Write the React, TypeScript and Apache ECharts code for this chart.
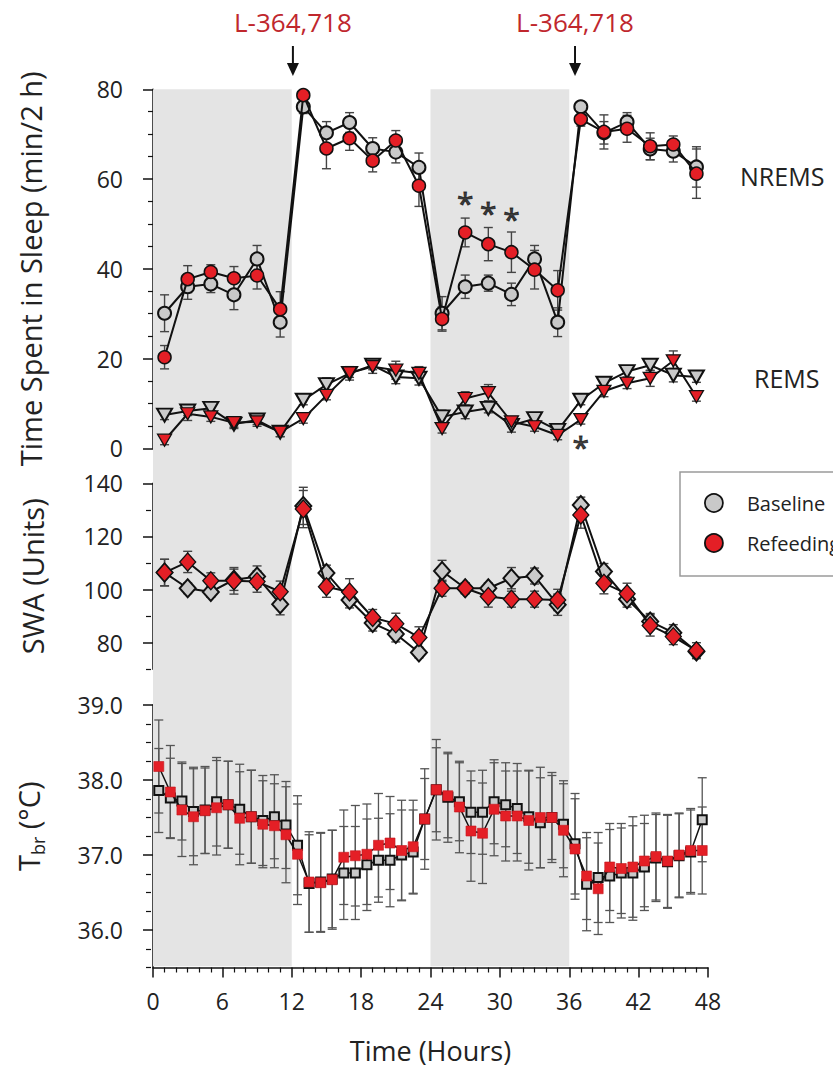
import React, { useEffect, useRef } from 'react';
import * as echarts from 'echarts';

// ---------- data ----------
const HOURS_2H = [1, 3, 5, 7, 9, 11, 13, 15, 17, 19, 21, 23, 25, 27, 29, 31, 33, 35, 37, 39, 41, 43, 45, 47];
const HOURS_1H = [0.5, 1.5, 2.5, 3.5, 4.5, 5.5, 6.5, 7.5, 8.5, 9.5, 10.5, 11.5, 12.5, 13.5, 14.5, 15.5, 16.5, 17.5, 18.5, 19.5, 20.5, 21.5, 22.5, 23.5, 24.5, 25.5, 26.5, 27.5, 28.5, 29.5, 30.5, 31.5, 32.5, 33.5, 34.5, 35.5, 36.5, 37.5, 38.5, 39.5, 40.5, 41.5, 42.5, 43.5, 44.5, 45.5, 46.5, 47.5];

const NREMS_BASE = [30.1, 36.0, 36.6, 34.2, 42.2, 28.1, 76.1, 70.3, 72.6, 66.8, 66.0, 62.6, 30.1, 36.0, 36.8, 34.3, 42.2, 28.1, 76.1, 70.3, 72.7, 66.7, 66.2, 62.7];
const NREMS_BASE_SEM = [4.1, 2.8, 1.9, 3.3, 3.0, 3.3, 1.5, 2.5, 2.2, 2.4, 2.4, 3.2, 3.7, 2.6, 1.8, 2.5, 3.0, 3.2, 1.0, 2.5, 2.1, 2.4, 2.4, 4.5];
const NREMS_REF = [20.3, 37.7, 39.3, 37.9, 38.5, 31.0, 78.7, 66.8, 69.1, 64.1, 68.6, 58.5, 28.8, 48.1, 45.5, 43.7, 39.8, 35.2, 73.3, 70.5, 71.2, 67.3, 67.7, 61.2];
const NREMS_REF_SEM = [2.6, 3.0, 1.6, 2.6, 3.0, 3.9, 1.0, 4.5, 2.7, 2.5, 2.2, 4.6, 2.7, 3.2, 3.7, 4.5, 4.3, 4.4, 1.5, 3.8, 3.0, 3.0, 1.9, 5.5];

const REMS_BASE = [7.4, 8.3, 8.9, 5.4, 6.3, 3.6, 10.7, 14.2, 16.7, 18.5, 15.9, 15.6, 7.0, 8.1, 8.9, 5.1, 6.6, 4.0, 10.7, 14.5, 17.1, 18.5, 16.3, 15.9];
const REMS_BASE_SEM = [1.0, 1.0, 1.0, 1.0, 1.0, 1.0, 1.0, 1.5, 1.5, 1.0, 1.5, 1.5, 1.5, 1.5, 1.0, 1.5, 1.0, 1.0, 1.0, 1.0, 1.2, 1.2, 1.5, 1.2];
const REMS_REF = [1.8, 7.7, 7.0, 5.7, 5.9, 3.6, 6.6, 11.8, 16.8, 18.2, 17.4, 16.7, 4.4, 11.1, 12.4, 5.9, 4.8, 2.9, 6.4, 12.7, 14.5, 15.6, 19.5, 11.5];
const REMS_REF_SEM = [1.0, 1.5, 1.0, 1.0, 1.0, 1.0, 1.0, 1.0, 1.0, 1.5, 2.0, 1.5, 1.0, 1.5, 1.8, 1.0, 1.0, 1.0, 1.0, 1.2, 1.2, 1.8, 2.2, 1.0];

const SWA_BASE = [106.4, 100.5, 99.1, 103.7, 104.9, 94.5, 131.5, 106.2, 96.1, 87.4, 83.3, 76.3, 107.0, 100.5, 100.5, 104.3, 105.1, 94.3, 131.8, 106.8, 96.4, 88.0, 83.8, 76.7];
const SWA_BASE_SEM = [5, 2, 2, 4, 4, 4, 7, 3, 3, 3, 3, 2, 4, 2, 2, 4, 3, 4, 3, 3, 3, 3, 3, 2];
const SWA_REF = [106.4, 110.4, 103.3, 103.3, 103.0, 99.2, 130.3, 101.1, 99.1, 89.5, 87.1, 82.0, 100.5, 100.5, 97.4, 96.4, 96.4, 96.1, 128.1, 102.4, 98.4, 86.5, 82.3, 77.0];
const SWA_REF_SEM = [5, 4, 3, 5, 4, 4, 7, 4, 5, 3, 4, 4, 3, 2, 4, 3, 3, 4, 5, 4, 4, 4, 3, 3];

const TBR_BASE = [37.86, 37.76, 37.72, 37.58, 37.60, 37.71, 37.67, 37.61, 37.51, 37.46, 37.51, 37.40, 37.13, 36.62, 36.64, 36.68, 36.76, 36.76, 36.87, 36.93, 36.93, 37.00, 37.04, 37.48, 37.87, 37.77, 37.71, 37.57, 37.57, 37.71, 37.67, 37.62, 37.51, 37.43, 37.50, 37.41, 37.15, 36.61, 36.70, 36.72, 36.76, 36.76, 36.84, 36.96, 36.91, 36.99, 37.04, 37.47];
const TBR_BASE_SEM = [0.56, 0.53, 0.52, 0.59, 0.58, 0.59, 0.58, 0.60, 0.62, 0.60, 0.56, 0.58, 0.66, 0.65, 0.66, 0.65, 0.62, 0.62, 0.61, 0.56, 0.62, 0.60, 0.56, 0.67, 0.67, 0.60, 0.52, 0.55, 0.56, 0.56, 0.56, 0.60, 0.62, 0.60, 0.60, 0.58, 0.67, 0.62, 0.60, 0.62, 0.60, 0.63, 0.58, 0.58, 0.62, 0.56, 0.56, 0.56];
const TBR_REF = [38.18, 37.84, 37.60, 37.51, 37.59, 37.63, 37.67, 37.49, 37.51, 37.41, 37.39, 37.27, 37.01, 36.64, 36.63, 36.67, 36.97, 36.99, 37.01, 37.13, 37.16, 37.06, 37.11, 37.48, 37.87, 37.79, 37.64, 37.32, 37.29, 37.61, 37.52, 37.52, 37.46, 37.50, 37.50, 37.33, 37.08, 36.72, 36.55, 36.84, 36.82, 36.84, 36.92, 36.98, 36.92, 37.00, 37.06, 37.06];
const TBR_REF_SEM = [0.62, 0.62, 0.62, 0.64, 0.57, 0.63, 0.58, 0.62, 0.62, 0.58, 0.56, 0.64, 0.67, 0.67, 0.66, 0.66, 0.63, 0.67, 0.67, 0.69, 0.62, 0.67, 0.62, 0.54, 0.56, 0.56, 0.61, 0.67, 0.67, 0.62, 0.60, 0.60, 0.66, 0.67, 0.56, 0.62, 0.67, 0.58, 0.61, 0.58, 0.60, 0.67, 0.61, 0.58, 0.62, 0.56, 0.56, 0.58];

const SIG_X = [27, 29, 31, 37];
const SIG_Y = [56.4, 54.2, 52.7, 1.9];

const DARK_PERIODS = [[0, 12], [24, 36]];
const ARROW_HOURS = [12.1, 36.5];
const DRUG_LABEL = 'L-364,718';

const X_TICKS = { min: 0, max: 48, interval: 6 };
const SLEEP_AXIS = { min: 0, max: 80, interval: 20 };
const SWA_AXIS = { min: 70, max: 140 };
const SWA_MAJOR = [80, 100, 120, 140];
const SWA_MINOR = [70, 90, 110, 130];
const TBR_AXIS = { min: 35.5, max: 39 };
const TBR_MAJOR = [36, 37, 38, 39];
const TBR_MINOR = [35.5, 35.75, 36.25, 36.5, 36.75, 37.25, 37.5, 37.75, 38.25, 38.5, 38.75];

// ---------- styles ----------
const FONT = 'Open Sans';
const RED = '#e41f26';
const GRAY = '#c9c9c9';
const INK = '#111';
const TXT = '#222';

const pair = (xs: number[], ys: number[]) => xs.map((x, i) => [x, ys[i]]);

function errSeries(xs: number[], ys: number[], sems: number[], axisIdx: number, yIdx: number, color: string, capW: number, lw: number, z: number) {
  return {
    type: 'custom',
    xAxisIndex: axisIdx,
    yAxisIndex: yIdx,
    z,
    silent: true,
    clip: false,
    data: xs.map((x, i) => [x, ys[i] - sems[i], ys[i] + sems[i]]),
    encode: { x: 0, y: [1, 2] },
    renderItem: (params: any, api: any) => {
      const x = api.value(0);
      const lo = api.coord([x, api.value(1)]);
      const hi = api.coord([x, api.value(2)]);
      const style = { stroke: color, lineWidth: lw, fill: 'none' };
      return {
        type: 'group',
        children: [
          { type: 'line', shape: { x1: lo[0], y1: lo[1], x2: hi[0], y2: hi[1] }, style },
          { type: 'line', shape: { x1: lo[0] - capW / 2, y1: lo[1], x2: lo[0] + capW / 2, y2: lo[1] }, style },
          { type: 'line', shape: { x1: hi[0] - capW / 2, y1: hi[1], x2: hi[0] + capW / 2, y2: hi[1] }, style },
        ],
      };
    },
  };
}

function lineSeries(name: string, xs: number[], ys: number[], axisIdx: number, yIdx: number, symbol: string, size: any, fill: string, border: string, bw: number, lw: number, z: number, rotate = 0) {
  return {
    name,
    type: 'line',
    xAxisIndex: axisIdx,
    yAxisIndex: yIdx,
    z,
    data: pair(xs, ys),
    symbol,
    symbolSize: size,
    symbolRotate: rotate,
    showSymbol: true,
    showAllSymbol: true,
    clip: false,
    itemStyle: { color: fill, borderColor: border, borderWidth: bw },
    lineStyle: { color: INK, width: lw },
    emphasis: { disabled: true },
  };
}

const axisLineStyle = { show: true, lineStyle: { color: INK, width: 1.5 } };
const TITLE_SIZE = 29;

export default function App() {
  const ref = useRef<HTMLDivElement>(null);

  useEffect(() => {
    if (!ref.current) return;
    const chart = echarts.init(ref.current, undefined, { renderer: 'svg' });

    const gridLeft = 153;
    const gridRight = 125;

    const hiddenX = (gi: number) => ({ type: 'value', gridIndex: gi, min: X_TICKS.min, max: X_TICKS.max, show: false });

    const option: any = {
      animation: false,
      backgroundColor: '#fff',
      textStyle: { fontFamily: FONT, color: TXT },
      grid: [
        { left: gridLeft, right: gridRight, top: 89.3, height: 877 },
        { left: gridLeft, right: gridRight, top: 89.3, height: 359 },
        { left: gridLeft, right: gridRight, top: 483.3, height: 186 },
        { left: gridLeft, right: gridRight, top: 705, height: 262.5 },
      ],
      xAxis: [
        hiddenX(0),
        hiddenX(1),
        hiddenX(2),
        {
          type: 'value',
          gridIndex: 3,
          min: X_TICKS.min,
          max: X_TICKS.max,
          interval: X_TICKS.interval,
          axisLine: axisLineStyle,
          axisTick: { show: true, length: 10, lineStyle: { color: INK, width: 1.5 } },
          minorTick: { show: true, splitNumber: 6, length: 5, lineStyle: { color: INK, width: 1.2 } },
          splitLine: { show: false },
          axisLabel: { fontSize: 23, color: TXT, margin: 22, fontFamily: FONT },
          name: 'Time (Hours)',
          nameLocation: 'middle',
          nameGap: 69,
          nameTextStyle: { fontSize: 27, color: TXT, fontFamily: FONT },
        },
      ],
      yAxis: [
        { type: 'value', gridIndex: 0, min: 0, max: 1, show: false },
        {
          type: 'value',
          gridIndex: 1,
          position: 'left',
          min: SLEEP_AXIS.min,
          max: SLEEP_AXIS.max,
          interval: SLEEP_AXIS.interval,
          offset: 2,
          axisLine: axisLineStyle,
          axisTick: { show: true, length: 10, lineStyle: { color: INK, width: 1.5 } },
          minorTick: { show: true, splitNumber: 4, length: 5, lineStyle: { color: INK, width: 1.2 } },
          splitLine: { show: false },
          axisLabel: { fontSize: 23, color: TXT, margin: 28, fontFamily: FONT },
          name: 'Time Spent in Sleep (min/2 h)',
          nameLocation: 'middle',
          nameGap: 106,
          nameRotate: 90,
          nameTextStyle: { fontSize: TITLE_SIZE, color: TXT, fontFamily: FONT },
        },
        {
          type: 'value',
          gridIndex: 2,
          position: 'left',
          min: SWA_AXIS.min,
          max: SWA_AXIS.max,
          offset: 2,
          axisLine: axisLineStyle,
          axisTick: { show: true, length: 10, customValues: SWA_MAJOR, lineStyle: { color: INK, width: 1.5 } },
          splitLine: { show: false },
          axisLabel: { fontSize: 23, color: TXT, margin: 28, fontFamily: FONT, customValues: SWA_MAJOR },
          name: 'SWA (Units)',
          nameLocation: 'middle',
          nameGap: 104,
          nameRotate: 90,
          nameTextStyle: { fontSize: TITLE_SIZE, color: TXT, fontFamily: FONT },
        },
        {
          type: 'value',
          gridIndex: 2,
          position: 'left',
          min: SWA_AXIS.min,
          max: SWA_AXIS.max,
          offset: 2,
          axisLine: { show: false },
          axisTick: { show: true, length: 5, customValues: SWA_MINOR, lineStyle: { color: INK, width: 1.2 } },
          splitLine: { show: false },
          axisLabel: { show: false },
        },
        {
          type: 'value',
          gridIndex: 3,
          position: 'left',
          min: TBR_AXIS.min,
          max: TBR_AXIS.max,
          offset: 2,
          axisLine: axisLineStyle,
          axisTick: { show: true, length: 10, customValues: TBR_MAJOR, lineStyle: { color: INK, width: 1.5 } },
          splitLine: { show: false },
          axisLabel: { fontSize: 23, color: TXT, margin: 28, fontFamily: FONT, customValues: TBR_MAJOR, formatter: (v: number) => v.toFixed(1) },
          name: '{t|T}{s|br}{t| (°C)}',
          nameLocation: 'middle',
          nameGap: 104,
          nameRotate: 90,
          nameTextStyle: {
            fontSize: TITLE_SIZE,
            color: TXT,
            fontFamily: FONT,
            padding: [0, 0, 0, 20],
            rich: {
              t: { fontSize: TITLE_SIZE, color: TXT, fontFamily: FONT, lineHeight: 38 },
              s: { fontSize: 18, color: TXT, fontFamily: FONT, lineHeight: 20, verticalAlign: 'bottom' },
            },
          },
        },
        {
          type: 'value',
          gridIndex: 3,
          position: 'left',
          min: TBR_AXIS.min,
          max: TBR_AXIS.max,
          offset: 2,
          axisLine: { show: false },
          axisTick: { show: true, length: 5, customValues: TBR_MINOR, lineStyle: { color: INK, width: 1.2 } },
          splitLine: { show: false },
          axisLabel: { show: false },
        },
      ],
      legend: {
        orient: 'vertical',
        left: 680,
        top: 472,
        padding: [21, 80, 23, 24],
        itemGap: 20,
        itemWidth: 18,
        itemHeight: 18,
        borderColor: '#9a9a9a',
        borderWidth: 1.5,
        selectedMode: false,
        textStyle: { fontSize: 20, color: TXT, fontFamily: FONT, padding: [0, 0, 0, 19] },
        data: [
          { name: 'Baseline', icon: 'circle', itemStyle: { color: GRAY, borderColor: INK, borderWidth: 1.8 } },
          { name: 'Refeeding', icon: 'circle', itemStyle: { color: RED, borderColor: INK, borderWidth: 1.8 } },
        ],
      },
      series: [
        {
          type: 'line',
          xAxisIndex: 0,
          yAxisIndex: 0,
          z: 0,
          data: [],
          silent: true,
          markArea: {
            silent: true,
            itemStyle: { color: '#e4e4e4' },
            data: DARK_PERIODS.map(([a, b]) => [{ xAxis: a }, { xAxis: b }]),
          },
        },
        // top panel error bars
        errSeries(HOURS_2H, NREMS_BASE, NREMS_BASE_SEM, 1, 1, '#444', 9, 1.4, 1),
        errSeries(HOURS_2H, NREMS_REF, NREMS_REF_SEM, 1, 1, '#444', 9, 1.4, 1),
        errSeries(HOURS_2H, REMS_BASE, REMS_BASE_SEM, 1, 1, '#444', 9, 1.4, 1),
        errSeries(HOURS_2H, REMS_REF, REMS_REF_SEM, 1, 1, '#444', 9, 1.4, 1),
        lineSeries('Baseline', HOURS_2H, NREMS_BASE, 1, 1, 'circle', 13, GRAY, INK, 2, 2, 2),
        lineSeries('Refeeding', HOURS_2H, NREMS_REF, 1, 1, 'circle', 13, RED, INK, 1.5, 2, 3),
        lineSeries('Baseline', HOURS_2H, REMS_BASE, 1, 1, 'triangle', [15, 13], GRAY, INK, 2, 2, 2, 180),
        lineSeries('Refeeding', HOURS_2H, REMS_REF, 1, 1, 'triangle', [14, 12], RED, INK, 1.3, 2, 3, 180),
        {
          type: 'scatter',
          xAxisIndex: 1,
          yAxisIndex: 1,
          z: 5,
          silent: true,
          data: pair(SIG_X, SIG_Y),
          symbolSize: 1,
          itemStyle: { color: 'rgba(0,0,0,0)' },
          label: {
            show: true,
            position: 'inside',
            formatter: '*',
            fontSize: 30,
            color: INK,
            fontFamily: FONT,
            textBorderColor: INK,
            textBorderWidth: 0.9,
            offset: [0, 7],
          },
        },
        // SWA
        errSeries(HOURS_2H, SWA_BASE, SWA_BASE_SEM, 2, 2, '#444', 9, 1.4, 1),
        errSeries(HOURS_2H, SWA_REF, SWA_REF_SEM, 2, 2, '#444', 9, 1.4, 1),
        lineSeries('Baseline', HOURS_2H, SWA_BASE, 2, 2, 'diamond', [16, 18], GRAY, INK, 2, 2, 2),
        lineSeries('Refeeding', HOURS_2H, SWA_REF, 2, 2, 'diamond', [16, 18], RED, INK, 1.3, 2, 3),
        // Tbr
        errSeries(HOURS_1H, TBR_BASE, TBR_BASE_SEM, 3, 4, '#555', 9, 1.3, 1),
        errSeries(HOURS_1H, TBR_REF, TBR_REF_SEM, 3, 4, '#555', 9, 1.3, 1),
        lineSeries('Baseline', HOURS_1H, TBR_BASE, 3, 4, 'rect', 9, GRAY, INK, 2, 1.5, 2),
        lineSeries('Refeeding', HOURS_1H, TBR_REF, 3, 4, 'rect', 10, RED, '#c4161d', 0.6, 1.5, 3),
      ],
    };

    chart.setOption(option);

    const graphics: any[] = [];
    ARROW_HOURS.forEach((h) => {
      const x = chart.convertToPixel({ xAxisIndex: 1 } as any, h) as unknown as number;
      graphics.push({
        type: 'text',
        x,
        y: 22,
        style: { text: DRUG_LABEL, fill: '#c0272d', fontSize: 26, fontFamily: FONT, align: 'center', verticalAlign: 'middle' },
      });
      graphics.push({ type: 'line', shape: { x1: x, y1: 46, x2: x, y2: 66 }, style: { stroke: INK, lineWidth: 2 } });
      graphics.push({ type: 'polygon', shape: { points: [[x - 6, 63], [x + 6, 63], [x, 76]] }, style: { fill: INK } });
    });
    graphics.push({ type: 'text', x: 740, y: 176, style: { text: 'NREMS', fill: TXT, fontSize: 25, fontFamily: FONT, align: 'left', verticalAlign: 'middle' } });
    graphics.push({ type: 'text', x: 754, y: 378, style: { text: 'REMS', fill: TXT, fontSize: 25, fontFamily: FONT, align: 'left', verticalAlign: 'middle' } });
    chart.setOption({ graphic: graphics });

    return () => chart.dispose();
  }, []);

  return <div ref={ref} style={{ position: 'absolute', left: 0, top: 0, width: 833, height: 1071 }} />;
}
